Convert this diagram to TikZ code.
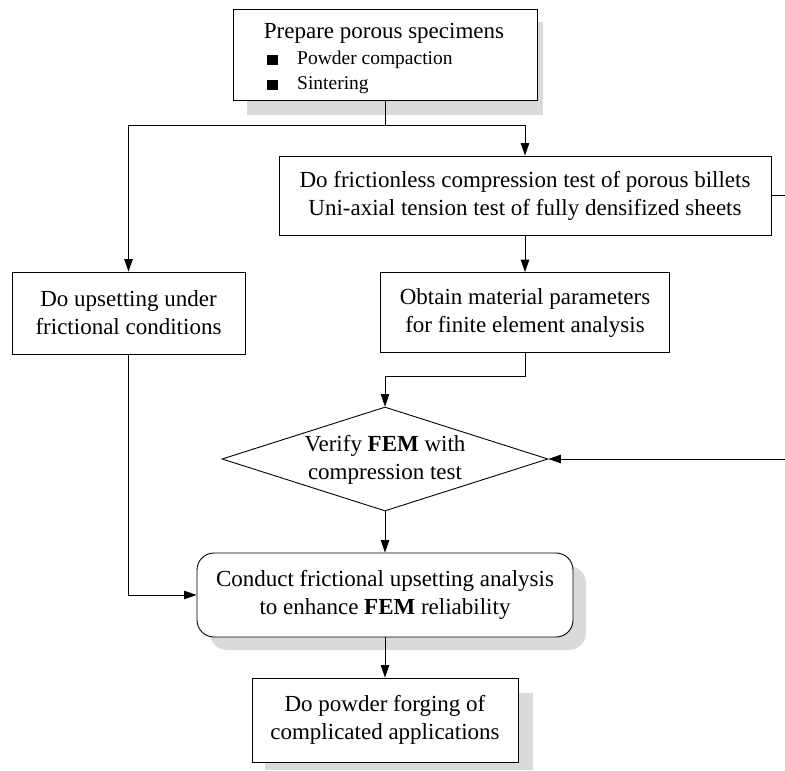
\documentclass[tikz,border=0pt]{standalone}
\usepackage{fontspec}
\setmainfont{Liberation Serif}
\usetikzlibrary{shapes.geometric,arrows.meta}
\definecolor{shadowgray}{HTML}{DADADA}
\begin{document}
\begin{tikzpicture}[x=1pt,y=-1pt,
  box/.style={draw,line width=0.9pt,fill=white,inner sep=0pt},
  lbl/.style={font=\fontsize{23}{28}\selectfont,align=center,inner sep=0pt},
  small/.style={font=\fontsize{19.5}{22}\selectfont,inner sep=0pt,anchor=west},
  bul/.style={fill=black,inner sep=0pt,minimum size=10.5pt},
  arr/.style={line width=0.9pt,-{Triangle[length=12.5pt,width=8.5pt]}},
  ln/.style={line width=0.9pt}]
\useasboundingbox (0,0) rectangle (785,771);
% shadows
\fill[shadowgray] (247,22) rectangle (543,115);
\fill[shadowgray,rounded corners=17pt] (210,566) rectangle (586,650);
\fill[shadowgray] (265,693) rectangle (533,770);
% boxes
\node[box,minimum width=304pt,minimum height=91pt] (prep) at (385,54.5) {};
\node[lbl,anchor=center] (prept) at (384,33) {Prepare porous specimens};
\node[bul] (b1) at (272.5,60) {};
\node[bul] (b2) at (272.5,85) {};
\node[small] (b1t) at (297,60) {Powder compaction};
\node[small] (b2t) at (297,85) {Sintering};

\node[box,minimum width=492pt,minimum height=79pt] (fric) at (525,195.5) {};
\node[lbl] (frict) at (fric.center) {Do frictionless compression test of porous billets\\Uni-axial tension test of fully densifized sheets};

\node[box,minimum width=289pt,minimum height=80pt] (mat) at (525,312.5) {};
\node[lbl] (matt) at (mat.center) {Obtain material parameters\\for finite element analysis};

\node[box,minimum width=233pt,minimum height=82pt] (upset) at (128.5,313) {};
\node[lbl] (upsett) at (upset.center) {Do upsetting under\\frictional conditions};

\node[box,diamond,minimum width=326pt,minimum height=104pt] (dia) at (385,459) {};
\node[lbl] (diat) at ([yshift=-1pt]dia.center) {Verify \textbf{FEM} with\\compression test};

\node[box,rounded corners=17pt,minimum width=376pt,minimum height=84pt] (cond) at (385,595) {};
\node[lbl] (condt) at (cond.center) {Conduct frictional upsetting analysis\\to enhance \textbf{FEM} reliability};

\node[box,minimum width=266pt,minimum height=84pt] (fin) at (385,720) {};
\node[lbl] (fint) at (fin.center) {Do powder forging of\\complicated applications};

% connectors
\coordinate (split) at (385,125);
\draw[ln] (prep.south) -- (split);
\draw[arr] (split) -| (upset.north);
\draw[arr] (split) -| (fric.north);
\draw[arr] (fric.south) -- (mat.north);
\coordinate (mturn) at (525,376);
\draw[arr] (mat.south) -- (mturn) -| (dia.north);
\coordinate (re1) at (786,195.5);
\coordinate (re2) at (786,459);
\draw[ln] (fric.east) -- (re1);
\draw[arr] (re2) -- (dia.east);
\draw[arr] (dia.south) -- (cond.north);
\draw[arr] (upset.south) |- (cond.west);
\draw[arr] (cond.south) -- (fin.north);
\end{tikzpicture}
\end{document}
